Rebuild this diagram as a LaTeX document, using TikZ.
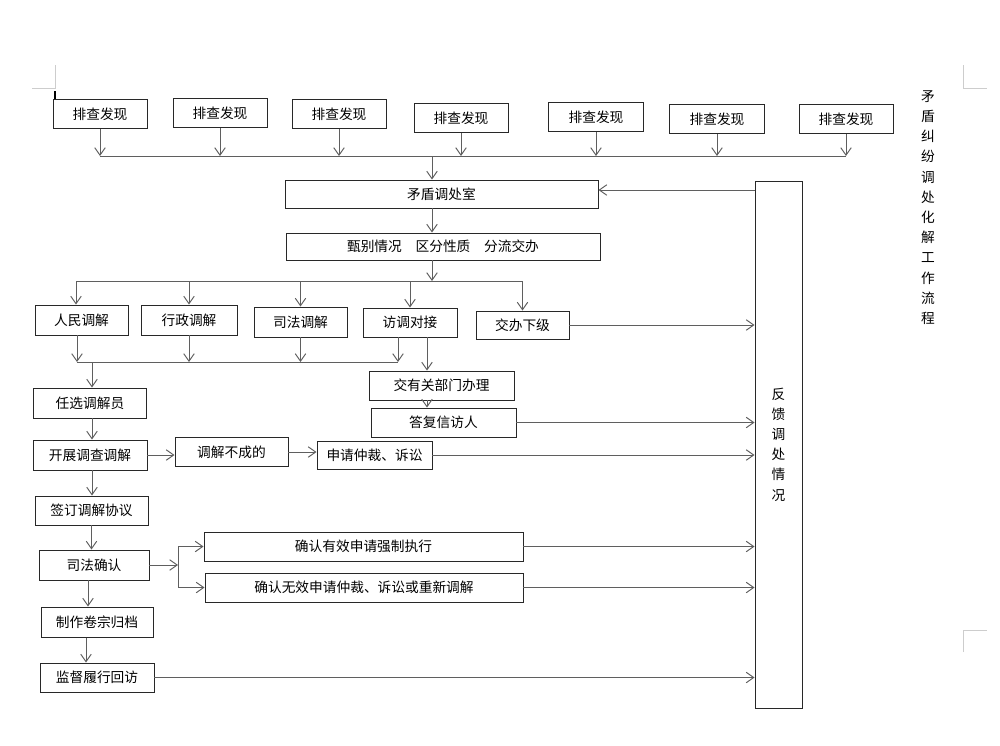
\documentclass[tikz,border=0pt]{standalone}
\usepackage{xcolor}
\usepackage{fontspec}
\usepackage{tikz}
\usetikzlibrary{arrows.meta, positioning, calc}
\newfontfamily\cjk{Noto Sans CJK SC}
\definecolor{boxline}{RGB}{40,40,40}
\definecolor{arrline}{RGB}{95,95,95}
\definecolor{markgray}{RGB}{205,205,205}
\tikzset{
  box/.style={rectangle, draw=boxline, fill=white, inner sep=0pt,
    minimum height=29*0.2mm, line width=0.55pt,
    font=\cjk\fontsize{7.8}{9}\selectfont},
  arrow/.style={-{Straight Barb[length=1.5mm, width=2.1mm]}, line width=0.55pt, color=arrline},
  line/.style={line width=0.55pt, color=arrline},
  cropmark/.style={line width=0.5pt, color=markgray},
  vtext/.style={align=center, inner sep=0pt, font=\cjk\fontsize{7.8}{11.5}\selectfont}
}

\begin{document}
\begin{tikzpicture}[x=0.2mm, y=-0.2mm]
  \useasboundingbox (0,0) rectangle (1000,745);

  % page corner marks
  \draw[cropmark] (55,65) -- (55,88) -- (32,88);
  \draw[cropmark] (963,65) -- (963,88) -- (987,88);
  \draw[cropmark] (963,652) -- (963,630) -- (987,630);
  \draw[black, line width=0.8pt] (55,91) -- (55,106);

  % Title
  \node[vtext, anchor=north] (title) at (928,90) {矛\\盾\\纠\\纷\\调\\处\\化\\解\\工\\作\\流\\程};

  % Top row
  \node[box, minimum width=94*0.2mm] (pc1) at (100,114) {排查发现};
  \node[box, minimum width=94*0.2mm] (pc2) at (220,113) {排查发现};
  \node[box, minimum width=94*0.2mm] (pc3) at (339,114) {排查发现};
  \node[box, minimum width=94*0.2mm] (pc4) at (461,118) {排查发现};
  \node[box, minimum width=95*0.2mm] (pc5) at (596,117) {排查发现};
  \node[box, minimum width=95*0.2mm] (pc6) at (717,119) {排查发现};
  \node[box, minimum width=94*0.2mm] (pc7) at (846,119) {排查发现};
  \coordinate (bus) at (432,156);

  % Office and sorting
  \node[box, minimum width=313*0.2mm, minimum height=28*0.2mm] (mdt) at (441.5,194) {矛盾调处室};
  \node[box, minimum width=314*0.2mm, minimum height=27*0.2mm] (zb) at (443,246.5) {甄别情况\quad 区分性质\quad 分流交办};
  \coordinate (split) at (432,281);
  \coordinate (brL) at (76,281);

  % Branches
  \node[box, minimum width=93*0.2mm, minimum height=30*0.2mm] (rm) at (81.5,320) {人民调解};
  \node[box, minimum width=96*0.2mm, minimum height=30*0.2mm] (xz) at (189,320) {行政调解};
  \node[box, minimum width=93*0.2mm, minimum height=30*0.2mm] (sf) at (300.5,322) {司法调解};
  \node[box, minimum width=94*0.2mm] (fd) at (410,322.5) {访调对接};
  \node[box, minimum width=93*0.2mm, minimum height=28*0.2mm] (jb) at (522.5,325) {交办下级};
  \coordinate (mgL) at (77,362);
  \coordinate (mgR) at (398,362);
  \coordinate (mgO) at (92,362);

  % Petition handling
  \node[box, minimum width=145*0.2mm] (jy) at (441.5,385.5) {交有关部门办理};
  \node[box, minimum width=145*0.2mm] (df) at (443.5,422.5) {答复信访人};

  % Mediation column
  \node[box, minimum width=113*0.2mm, minimum height=30*0.2mm] (rx) at (90,403) {任选调解员};
  \node[box, minimum width=114*0.2mm, minimum height=30*0.2mm] (kz) at (90,455) {开展调查调解};
  \node[box, minimum width=113*0.2mm] (tj) at (231.5,452) {调解不成的};
  \node[box, minimum width=115*0.2mm, minimum height=28*0.2mm] (sq) at (374.5,455) {申请仲裁、诉讼};
  \node[box, minimum width=113*0.2mm] (qd) at (91.5,510.5) {签订调解协议};
  \node[box, minimum width=110*0.2mm, minimum height=30*0.2mm] (sfqr) at (94,565) {司法确认};
  \coordinate (fork) at (178,566);
  \node[box, minimum width=319*0.2mm] (qy) at (363.5,546.5) {确认有效申请强制执行};
  \node[box, minimum width=318*0.2mm] (qw) at (364,587.5) {确认无效申请仲裁、诉讼或重新调解};
  \node[box, minimum width=112*0.2mm, minimum height=30*0.2mm] (zz) at (97,622) {制作卷宗归档};
  \node[box, minimum width=114*0.2mm] (jd) at (97,677.5) {监督履行回访};

  % Feedback
  \node[box, minimum width=47*0.2mm, minimum height=527*0.2mm] (fk) at (778.5,444.5) {};
  \node[vtext] (fktext) at (fk.center) {反\\馈\\调\\处\\情\\况};

  % top row arrows
  \draw[arrow] (pc1.south) -- (pc1.south |- bus);
  \draw[arrow] (pc2.south) -- (pc2.south |- bus);
  \draw[arrow] (pc3.south) -- (pc3.south |- bus);
  \draw[arrow] (pc4.south) -- (pc4.south |- bus);
  \draw[arrow] (pc5.south) -- (pc5.south |- bus);
  \draw[arrow] (pc6.south) -- (pc6.south |- bus);
  \draw[arrow] (pc7.south) -- (pc7.south |- bus);
  \draw[line] (pc1.south |- bus) -- (pc7.south |- bus);
  \draw[arrow] (bus) -- (bus |- mdt.north);
  \draw[arrow] (bus |- mdt.south) -- (bus |- zb.north);

  % branch arrows
  \draw[arrow] (split |- zb.south) -- (split);
  \draw[line] (brL) -- (jb.north |- split);
  \draw[arrow] (brL) -- (brL |- rm.north);
  \draw[arrow] (xz.north |- split) -- (xz.north);
  \draw[arrow] (sf.north |- split) -- (sf.north);
  \draw[arrow] (fd.north |- split) -- (fd.north);
  \draw[arrow] (jb.north |- split) -- (jb.north);

  % merge into mediation
  \draw[arrow] (rm.south -| mgL) -- (mgL);
  \draw[arrow] (xz.south) -- (xz.south |- mgL);
  \draw[arrow] (sf.south) -- (sf.south |- mgL);
  \draw[arrow] (fd.south -| mgR) -- (mgR);
  \draw[line] (mgL) -- (mgR);
  \draw[arrow] (mgO) -- (mgO |- rx.north);
  \draw[arrow] ([xshift=3.4mm]fd.south) -- ([xshift=3.4mm]fd.south |- jy.north);
  \draw[arrow] ([xshift=-2.9mm]jy.south) -- ([xshift=-2.9mm]jy.south |- df.north);

  % mediation column arrows
  \draw[arrow] ([xshift=0.4mm]rx.south) -- ([xshift=0.4mm]rx.south |- kz.north);
  \draw[arrow] ([xshift=0.4mm]kz.south) -- ([xshift=0.4mm]kz.south |- qd.north);
  \draw[arrow] (kz.east) -- (kz.east -| tj.west);
  \draw[arrow] (tj.east) -- (tj.east -| sq.west);
  \draw[arrow] (qd.south) -- (qd.south |- sfqr.north);
  \draw[arrow] (sfqr.east) -- (sfqr.east -| fork);
  \draw[line] (fork |- qy.west) -- (fork |- qw.west);
  \draw[arrow] (fork |- qy.west) -- (qy.west);
  \draw[arrow] (fork |- qw.west) -- (qw.west);
  \draw[arrow] ([xshift=-1.2mm]sfqr.south) -- ([xshift=-1.2mm]sfqr.south |- zz.north);
  \draw[arrow] ([xshift=-2.2mm]zz.south) -- ([xshift=-2.2mm]zz.south |- jd.north);

  % feedback arrows
  \draw[arrow] (jb.east) -- (jb.east -| fk.west);
  \draw[arrow] (df.east) -- (df.east -| fk.west);
  \draw[arrow] (sq.east) -- (sq.east -| fk.west);
  \draw[arrow] (qy.east) -- (qy.east -| fk.west);
  \draw[arrow] (qw.east) -- (qw.east -| fk.west);
  \draw[arrow] (jd.east) -- (jd.east -| fk.west);
  \draw[arrow] ([yshift=0.8mm]fk.west |- mdt.east) -- ([yshift=0.8mm]mdt.east);
\end{tikzpicture}
\end{document}
